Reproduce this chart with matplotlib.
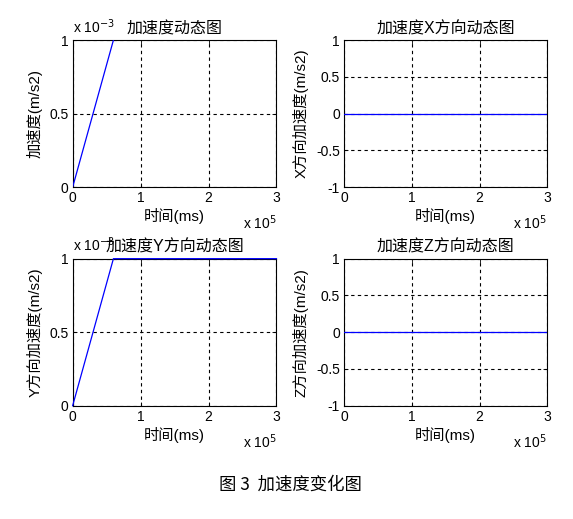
import matplotlib
matplotlib.use('Agg')
import matplotlib.pyplot as plt

plt.rcParams['font.family'] = ['Liberation Sans', 'Noto Sans CJK SC']
plt.rcParams['axes.unicode_minus'] = False

# data (time in ms, acceleration in m/s2)
t_total = [0, 60000, 300000]
a_total = [0, 0.001, 0.005]
t_y = [0, 60000, 300000]
a_y = [0, 0.001, 0.001]
t_x = [0, 300000]
a_x = [0, 0]
t_z = [0, 300000]
a_z = [0, 0]

xticks = [0, 100000, 200000, 300000]
xtick_labels = ['0', '1', '2', '3']
small_yticks = [0, 0.0005, 0.001]
small_ytick_labels = ['0', '0.5', '1']
zero_yticks = [-1, -0.5, 0, 0.5, 1]
zero_ytick_labels = ['-1', '-0.5', '0', '0.5', '1']

panels = [
    # (rect, t, a, title, ylabel, yticks, yticklabels, ylim, y offset text, clip)
    ([0.1268, 0.6394, 0.3557, 0.2833], t_total, a_total, '加速度动态图', '加速度(m/s2)',
     small_yticks, small_ytick_labels, (0, 0.001), True, True),
    ([0.6003, 0.6394, 0.3548, 0.2833], t_x, a_x, '加速度X方向动态图', 'X方向加速度(m/s2)',
     zero_yticks, zero_ytick_labels, (-1, 1), False, True),
    ([0.1268, 0.2183, 0.3557, 0.2833], t_y, a_y, '加速度Y方向动态图', 'Y方向加速度(m/s2)',
     small_yticks, small_ytick_labels, (0, 0.001), True, False),
    ([0.6003, 0.2183, 0.3548, 0.2833], t_z, a_z, '加速度Z方向动态图', 'Z方向加速度(m/s2)',
     zero_yticks, zero_ytick_labels, (-1, 1), False, True),
]

fig = plt.figure(figsize=(5.73, 5.19), dpi=100)

for rect, t, a, title, ylabel, yt, ytl, ylim, yoff, clip in panels:
    ax = fig.add_axes(rect)
    ax.plot(t, a, color='#0000FF', linewidth=0.9, clip_on=clip, zorder=5)
    ax.set_xlim(0, 300000)
    ax.set_ylim(*ylim)
    ax.set_xticks(xticks)
    ax.set_xticklabels(xtick_labels)
    ax.set_yticks(yt)
    ax.set_yticklabels(ytl)
    ax.tick_params(direction='in', top=True, right=True, length=3,
                   labelsize=10, pad=3, width=0.6)
    ax.grid(True, color='black', linestyle=(0, (3, 3)), linewidth=0.8)
    for sp in ax.spines.values():
        sp.set_linewidth(0.8)
    ax.set_title(title, fontsize=11.5, pad=5)
    ax.set_xlabel('时间(ms)', fontsize=11, labelpad=2)
    ax.set_ylabel(ylabel, fontsize=11, labelpad=5)
    ax.text(1.0, -0.245, 'x 10$^{5}$', transform=ax.transAxes, ha='right',
            va='center', fontsize=10)
    if yoff:
        ax.text(0.0, 1.03, 'x 10$^{-3}$', transform=ax.transAxes, ha='left',
                va='bottom', fontsize=10)

fig.text(0.506, 0.066, '图 3  加速度变化图', ha='center', va='center',
         fontsize=12.5, family=['Noto Sans CJK SC'])

fig.savefig('out.png', dpi=100, facecolor='white')
